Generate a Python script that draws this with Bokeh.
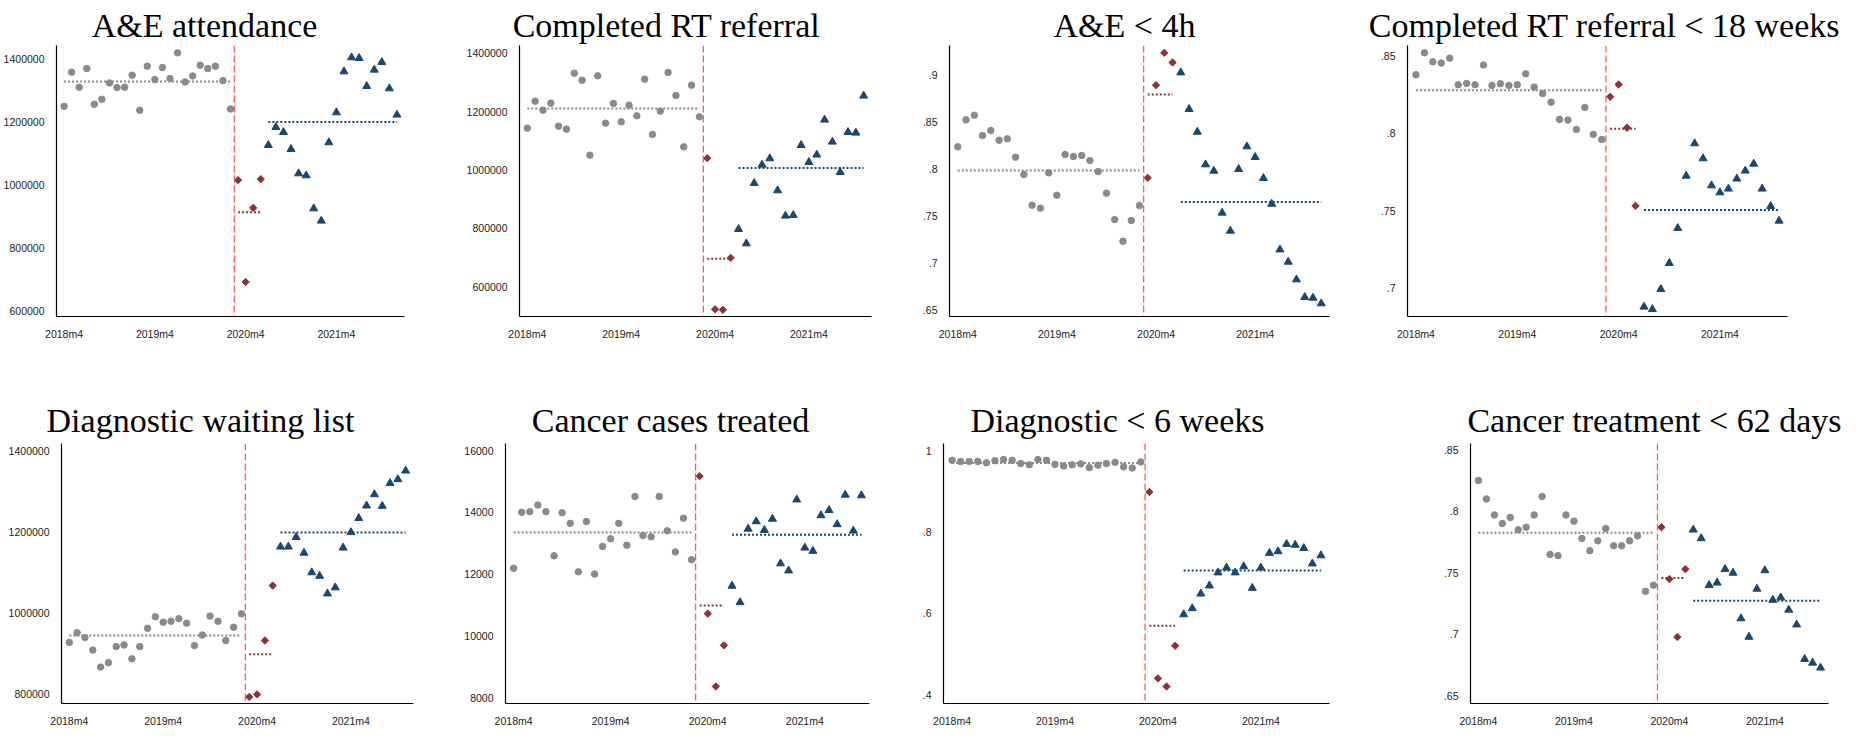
import numpy as np
from bokeh.plotting import figure
from bokeh.models import FixedTicker, Label, Span, Range1d
from bokeh.layouts import row, column
from bokeh.embed import file_html
from bokeh.resources import INLINE

# ---------------- data ----------------
MONTHS = [f"{2018 + (3 + i) // 12}m{(3 + i) % 12 + 1}" for i in range(49)]  # 2018m4 ... 2022m4
XTICK_LABELS = ["2018m4", "2019m4", "2020m4", "2021m4"]
BREAK_AFTER = "2020m2"   # vertical line between 2020m2 and 2020m3

ae_pre = [1250500, 1358600, 1311000, 1370300, 1256800, 1272700, 1324700, 1309900, 1311000, 1349100,
          1237800, 1377700, 1335300, 1373500, 1338500, 1420100, 1327900, 1347000, 1380900, 1370300,
          1377700, 1332100, 1242000]
ae_cov = [1016100, 692700, 928100, 1019300]
ae_post = [1127000, 1184100, 1168300, 1114300, 1037100, 1030800, 926000, 887000, 1135600, 1230800,
           1361000, 1405400, 1403200, 1314300, 1366300, 1390500, 1307000, 1223500]

rt_pre = [1144000, 1236600, 1205700, 1229700, 1150900, 1140600, 1332600, 1308600, 1051400, 1323400,
          1161100, 1228600, 1165700, 1222900, 1186300, 1312000, 1122300, 1202300, 1334900, 1256000,
          1080000, 1291400, 1182900]
rt_cov = [1041100, 523000, 521000, 699400]
rt_post = [797600, 748500, 955300, 1018300, 1040000, 930300, 843500, 845600, 1085600, 1027300,
           1052700, 1172700, 1097200, 993000, 1130200, 1128100, 1255000]

ae4_pre = [.8238, .8525, .8574, .8358, .8411, .8308, .8323, .8128, .7943, .7617, .7585, .7961,
           .7723, .8156, .8135, .8145, .8092, .7975, .7745, .7464, .7234, .7454, .7613]
ae4_cov = [.7908, .8894, .9238, .9135]
ae4_post = [.9028, .8638, .8397, .8050, .7982, .7536, .7344, .8000, .8241, .8128, .7904, .7631,
            .7145, .7014, .6826, .6638, .6631, .6571]

rt18_pre = [.8381, .8524, .8465, .8457, .8489, .8316, .8325, .8316, .8444, .8312, .8323, .8312,
            .8316, .8387, .8301, .8260, .8203, .8091, .8087, .8026, .8169, .7994, .7961]
rt18_cov = [.8238, .8318, .8037, .7530]
rt18_post = [.6875, .6859, .6989, .7158, .7385, .7725, .7935, .7838, .7662, .7617, .7641, .7706,
             .7758, .7803, .7641, .7528, .7433]

dwl_pre = [926700, 950500, 938600, 907700, 865800, 876800, 916400, 920400, 886300, 916400,
           961500, 990000, 976600, 978900, 985200, 974200, 918800, 944900, 991600, 978900,
           931400, 963900, 997200]
dwl_cov = [792200, 798500, 931400, 1066800]
dwl_post = [1162600, 1162600, 1186300, 1147500, 1099200, 1090500, 1047000, 1062000, 1160200,
            1198200, 1233000, 1263900, 1291600, 1263100, 1319300, 1328800, 1350100]

cct_pre = [12187, 14000, 14021, 14234, 14021, 12592, 13984, 13642, 12073, 13704, 12000, 12894,
           13143, 13642, 12935, 14514, 13247, 13205, 14514, 13403, 12717, 13808, 12468]
cct_cov = [15169, 10722, 8364, 9694]
cct_post = [11616, 11086, 13465, 13704, 13423, 13787, 12343, 12114, 14410, 12852, 12748, 13901,
            14067, 13610, 14566, 13403, 14545]

d6_pre = [.976, .973, .973, .973, .970, .975, .978, .976, .968, .965, .978, .976, .966, .962,
          .965, .967, .958, .964, .968, .971, .960, .957, .972]
d6_cov = [.898, .440, .420, .520]
d6_post = [.597, .612, .648, .668, .700, .712, .700, .715, .662, .712, .748, .752, .770, .768,
           .760, .722, .742]

c62_pre = [.825, .810, .797, .790, .795, .785, .787, .797, .812, .765, .764, .797, .792, .778,
           .768, .776, .786, .772, .772, .776, .780, .735, .740]
c62_cov = [.787, .745, .698, .753]
c62_post = [.785, .778, .740, .742, .753, .750, .713, .698, .737, .752, .728, .730, .720, .708,
            .680, .677, .673]

TITLES = ["A&E attendance", "Completed RT referral", "A&E < 4h", "Completed RT referral < 18 weeks",
          "Diagnostic waiting list", "Cancer cases treated", "Diagnostic < 6 weeks",
          "Cancer treatment < 62 days"]

YT_BIG = [600000, 800000, 1000000, 1200000, 1400000]
YT_BIG_LAB = ["600000", "800000", "1000000", "1200000", "1400000"]
YT_CASES = [8000, 10000, 12000, 14000, 16000]
YT_CASES_LAB = ["8000", "10000", "12000", "14000", "16000"]
YT_AE4 = [.65, .7, .75, .8, .85, .9]
YT_AE4_LAB = [".65", ".7", ".75", ".8", ".85", ".9"]
YT_RT18 = [.7, .75, .8, .85]
YT_RT18_LAB = [".7", ".75", ".8", ".85"]
YT_D6 = [.4, .6, .8, 1.0]
YT_D6_LAB = [".4", ".6", ".8", "1"]
YT_C62 = [.65, .7, .75, .8, .85]
YT_C62_LAB = [".65", ".7", ".75", ".8", ".85"]

# ---------------- style ----------------
GRAY = "#8a8a8a"
RED = "#8f3139"
NAVY = "#1a476f"
VLINE = "#ff5a5a"
TITLE_FONT = "Liberation Serif"
TITLE_SIZE = "34px"
TICK_FONT = "Liberation Sans"
TICK_SIZE = "10.5px"
TICK_COLOR = "#222222"

# rows in page pixels: canvas top, frame top, frame bottom, canvas bottom, title baseline
ROW1 = (8, 53, 324, 380, 33)
ROW2 = (380, 451, 720, 737, 427.7)

# panels: canvas left, canvas width, frame left, frame right, title centre (page pixels)
GEO = [
    (8, 416, 60, 412, 212),
    (424, 467, 527, 879, 674),
    (891, 458, 957, 1337, 1132),
    (1349, 502, 1415, 1795, 1612),
    (8, 424, 69, 421, 208),
    (432, 456, 513, 877, 678),
    (888, 461, 951, 1337, 1125),
    (1349, 502, 1478, 1836, 1662),
]


def make_title(title, geo, rowgeo):
    cl, cw, fl, fr, tcx = geo
    ct, ft, fb, cb, base = rowgeo
    h = ft - ct
    t = figure(width=cw, height=h, output_backend="svg", toolbar_location=None,
               x_range=Range1d(0, 1), y_range=Range1d(0, 1),
               x_axis_location=None, y_axis_location=None, min_border=0)
    t.title.visible = False
    t.outline_line_color = None
    t.grid.visible = False
    t.border_fill_color = "white"
    t.add_layout(Label(x=tcx - cl, y=ft - base, x_units="screen", y_units="screen",
                       text=title, text_align="center", text_baseline="alphabetic",
                       text_font=TITLE_FONT, text_font_size=TITLE_SIZE, text_color="black"))
    return t


def make_panel(pre, cov, post, yticks, ylabels, yrange, geo, rowgeo):
    cl, cw, fl, fr, tcx = geo
    ct, ft, fb, cb, base = rowgeo
    n = len(pre) + len(cov) + len(post)
    p = figure(width=cw, height=cb - ft, output_backend="svg", toolbar_location=None,
               x_range=Range1d(-1, n), y_range=Range1d(*yrange),
               min_border_left=fl - cl, min_border_right=cl + cw - fr,
               min_border_top=0, min_border_bottom=cb - fb)
    p.title.visible = False
    p.outline_line_color = None
    p.xgrid.visible = False
    p.ygrid.visible = False
    p.background_fill_color = "white"
    p.border_fill_color = "white"

    xpos = {m: i for i, m in enumerate(MONTHS)}
    xt = [xpos[m] for m in XTICK_LABELS]
    p.xaxis.ticker = FixedTicker(ticks=xt)
    p.xaxis.major_label_overrides = {t: m for t, m in zip(xt, XTICK_LABELS)}
    p.yaxis.ticker = FixedTicker(ticks=yticks)
    p.yaxis.major_label_overrides = {t: s for t, s in zip(yticks, ylabels)}
    for ax in (p.xaxis, p.yaxis):
        ax.major_tick_line_color = None
        ax.minor_tick_line_color = None
        ax.axis_line_color = "black"
        ax.axis_line_width = 1.2
        ax.major_label_text_font = TICK_FONT
        ax.major_label_text_font_size = TICK_SIZE
        ax.major_label_text_color = TICK_COLOR
    p.xaxis.major_label_standoff = 5
    p.yaxis.major_label_standoff = 6

    x_pre = np.arange(len(pre))
    x_cov = np.arange(len(pre), len(pre) + len(cov))
    x_post = np.arange(len(pre) + len(cov), n)

    brk = xpos[BREAK_AFTER] + 0.5
    p.add_layout(Span(location=brk, dimension="height", line_color=VLINE,
                      line_dash="7 3", line_width=1.3))

    for xs, ys, col in ((x_pre, pre, GRAY), (x_cov, cov, RED), (x_post, post, NAVY)):
        m = float(np.mean(ys))
        p.line([xs[0], xs[-1]], [m, m], line_color=col, line_width=2,
               line_dash="2 2", line_cap="butt")

    p.scatter(x_pre, pre, marker="circle", size=6.5, color=GRAY)
    p.scatter(x_cov, cov, marker="square", angle=np.pi / 4, size=5.2, color=RED)
    p.scatter(x_post, post, marker="triangle", size=8, color=NAVY)
    return p


specs = [
    (ae_pre, ae_cov, ae_post, YT_BIG, YT_BIG_LAB, (583200, 1443500)),
    (rt_pre, rt_cov, rt_post, YT_BIG, YT_BIG_LAB, (498200, 1427400)),
    (ae4_pre, ae4_cov, ae4_post, YT_AE4, YT_AE4_LAB, (0.6433, 0.9316)),
    (rt18_pre, rt18_cov, rt18_post, YT_RT18, YT_RT18_LAB, (0.6812, 0.8571)),
    (dwl_pre, dwl_cov, dwl_post, YT_BIG[1:], YT_BIG_LAB[1:], (776000, 1417300)),
    (cct_pre, cct_cov, cct_post, YT_CASES, YT_CASES_LAB, (7812, 16227)),
    (d6_pre, d6_cov, d6_post, YT_D6, YT_D6_LAB, (0.3782, 1.0173)),
    (c62_pre, c62_cov, c62_post, YT_C62, YT_C62_LAB, (0.644, 0.855)),
]

titles, panels = [], []
for i, (pre, cov, post, yt, yl, yr) in enumerate(specs):
    rg = ROW1 if i < 4 else ROW2
    titles.append(make_title(TITLES[i], GEO[i], rg))
    panels.append(make_panel(pre, cov, post, yt, yl, yr, GEO[i], rg))

layout = column(row(*titles[:4]), row(*panels[:4]), row(*titles[4:]), row(*panels[4:]))
open("out.html", "w").write(file_html(layout, INLINE))
